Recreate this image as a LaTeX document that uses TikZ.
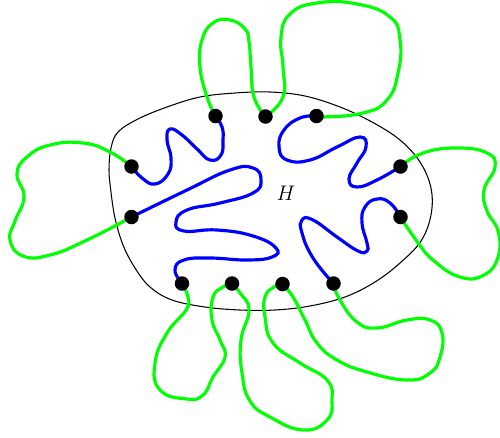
\documentclass[tikz,border=0pt]{standalone}
\usepackage{amsmath,amssymb,xcolor,tikz}
\usetikzlibrary{positioning,calc}
\definecolor{lgreen}{RGB}{0,255,0}
\tikzset{
  vtx/.style={circle,fill=black,inner sep=0pt,minimum size=0.29cm},
  blob/.style={draw=black,line width=0.6pt},
  incurve/.style={draw=blue,line width=1.8pt,line cap=round},
  outcurve/.style={draw=lgreen,line width=1.8pt,line cap=round},
  lbl/.style={font=\large}
}

\begin{document}
\begin{tikzpicture}[x=0.02cm,y=-0.02cm]
  \useasboundingbox (0,0) rectangle (500,437);

  % region H
  \draw[blob] plot[smooth cycle,tension=0.6] coordinates {(111,148) (118,132) (138,119) (167,107) (200,97) (235,93) (270,92) (305,96) (340,107) (372,122) (400,140) (420,162) (431,188) (431,215) (421,241) (400,263) (375,282) (345,297) (310,306) (275,310) (240,310) (205,307) (172,300) (150,287) (135,268) (123,245) (115,218) (111,192) (109,170)};
  \node[lbl] (h) at (286,193) {$H$};

  % boundary points
  \coordinate (p1) at (131.5,166.5);
  \coordinate (p2) at (131.5,217);
  \coordinate (p3) at (215.5,116);
  \coordinate (p4) at (265.5,116.5);
  \coordinate (p5) at (316.5,116);
  \coordinate (p6) at (400.5,166.5);
  \coordinate (p7) at (400.5,217);
  \coordinate (p8) at (182,283.5);
  \coordinate (p9) at (232,283.5);
  \coordinate (p10) at (282.5,284);
  \coordinate (p11) at (333.5,283.5);

  % inner (blue) arcs
  \draw[incurve] plot[smooth,tension=0.8] coordinates {(p1) (142,178) (155,184) (168,174) (171,158) (167,140) (170,129) (182,135) (197,149) (210,160) (221,155) (223,140) (222,127) (p3)};
  \draw[incurve] plot[smooth,tension=0.8] coordinates {(p2) (187,190) (230,170) (253,168) (261,180) (253,193) (220,203) (187,210) (176,222) (184,231) (217,230) (253,236) (276,248) (272,257) (247,260) (210,258) (184,260) (175,270) (p8)};
  \draw[incurve] plot[smooth,tension=0.8] coordinates {(p5) (300,118) (284,130) (279,147) (287,160) (310,160) (337,147) (360,137) (366,147) (357,163) (349,179) (357,187) (377,180) (p6)};
  \draw[incurve] plot[smooth,tension=0.8] coordinates {(p7) (390,203) (377,199) (365,207) (362,223) (367,243) (367,251) (358,251) (337,237) (313,220) (302,220) (302,233) (313,258) (p11)};

  % outer (green) arcs
  \draw[outcurve] plot[smooth,tension=0.8] coordinates {(p1) (110,152) (83,143) (50,145) (27,157) (17,174) (24,197) (15,221) (10,240) (23,256) (50,255) (87,240) (p2)};
  \draw[outcurve] plot[smooth,tension=0.8] coordinates {(p6) (423,153) (457,148) (487,153) (495,167) (484,190) (487,211) (498,231) (498,257) (484,275) (460,277) (433,260) (416,240) (p7)};
  \draw[outcurve] plot[smooth,tension=0.8] coordinates {(p3) (207,97) (200,67) (202,40) (213,23) (230,20) (245,29) (249,42) (251,67) (254,97) (p4)};
  \draw[outcurve] plot[smooth,tension=0.8] coordinates {(p4) (283,97) (283,67) (281,37) (290,14) (317,3) (357,4) (390,17) (400,40) (398,73) (387,100) (363,113) (323,117) (p5)};
  \draw[outcurve] plot[smooth,tension=0.8] coordinates {(p8) (188,297) (186,310) (167,333) (155,363) (160,390) (187,399) (203,395) (213,377) (225,357) (220,340) (212,320) (213,297) (223,287) (p9)};
  \draw[outcurve] plot[smooth,tension=0.8] coordinates {(p9) (240,293) (249,310) (241,340) (242,373) (250,401) (270,417) (303,430) (327,420) (332,400) (327,380) (300,363) (273,343) (265,317) (265,297) (274,287) (p10)};
  \draw[outcurve] plot[smooth,tension=0.8] coordinates {(p10) (293,297) (305,320) (317,343) (337,360) (367,372) (407,380) (430,373) (440,357) (442,333) (430,320) (407,320) (377,328) (357,322) (340,300) (p11)};

  % dots on top
  \foreach \i in {1,...,11}
    \node[vtx] (d\i) at (p\i) {};
\end{tikzpicture}
\end{document}
